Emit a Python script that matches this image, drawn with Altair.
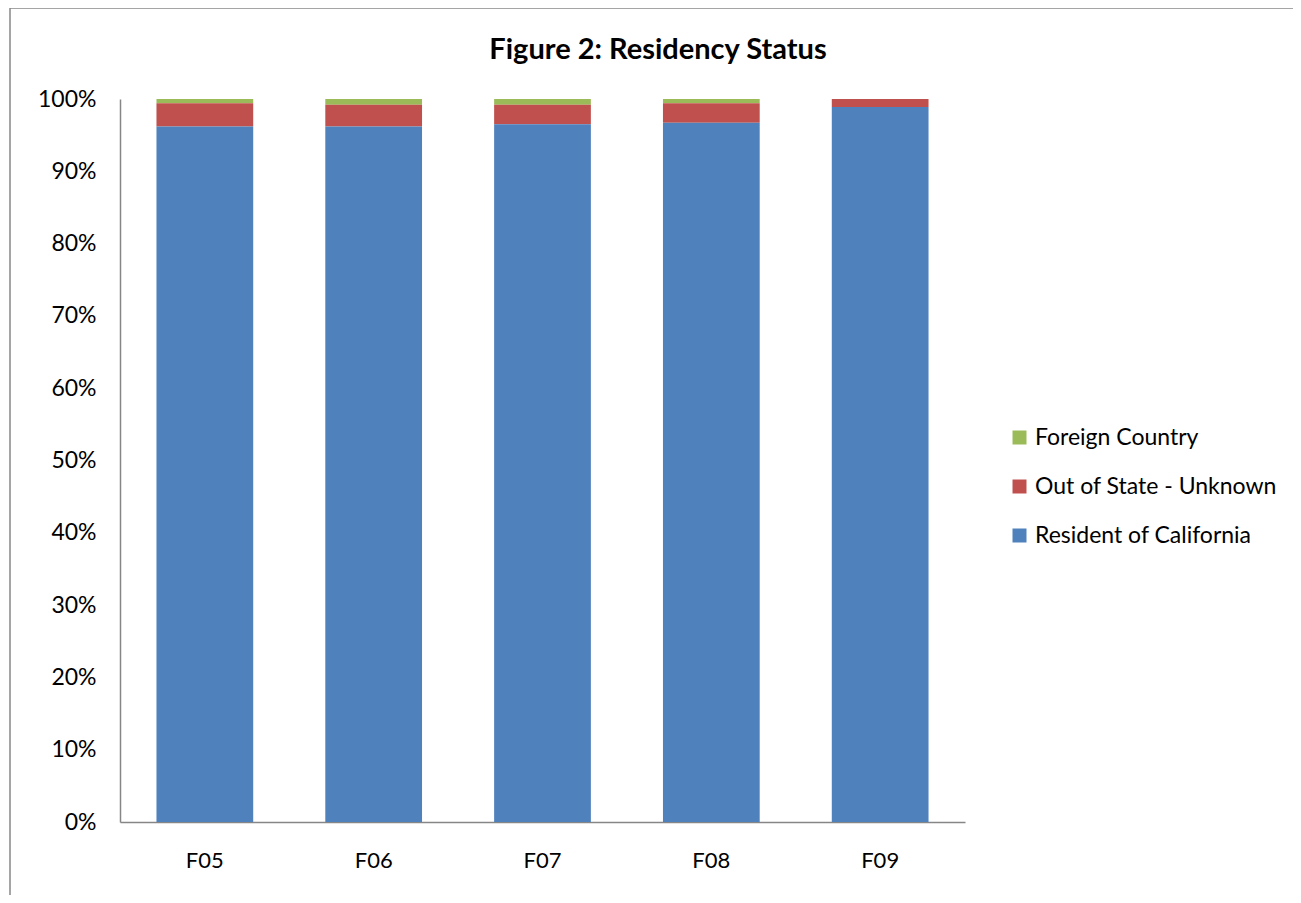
import altair as alt
import pandas as pd

years = ["F05", "F06", "F07", "F08", "F09"]
resident = [96.2, 96.2, 96.5, 96.7, 98.9]
out_of_state = [3.2, 3.0, 2.7, 2.7, 1.1]
foreign = [0.6, 0.8, 0.8, 0.6, 0.0]

series = ["Foreign Country", "Out of State  - Unknown", "Resident of California"]
colors = ["#9BBB59", "#C0504D", "#4F81BD"]
stack_order = {"Resident of California": 0, "Out of State  - Unknown": 1, "Foreign Country": 2}
title_text = "Figure 2: Residency Status"

rows = []
for i, y in enumerate(years):
    for name, vals in zip(series, [foreign, out_of_state, resident]):
        rows.append({"year": y, "series": name, "value": vals[i], "ord": stack_order[name]})
df = pd.DataFrame(rows)

FONT = "Lato"

bars = alt.Chart(df).mark_bar().encode(
    x=alt.X("year:N", sort=years,
            scale=alt.Scale(paddingInner=0.427, paddingOuter=0.216),
            axis=alt.Axis(title=None, labelAngle=0, ticks=False, labelPadding=28,
                          labelFontSize=22, labelFont=FONT, labelColor="#000000",
                          domainColor="#868686", domainWidth=1.5)),
    y=alt.Y("value:Q", stack="normalize",
            scale=alt.Scale(domain=[0, 1], nice=False),
            axis=alt.Axis(title=None, format=".0%", values=[i / 10 for i in range(11)],
                          ticks=False, grid=False, labelPadding=24,
                          labelFontSize=23, labelFont=FONT, labelColor="#000000",
                          domainColor="#868686", domainWidth=1.5)),
    color=alt.Color("series:N", sort=series,
                    scale=alt.Scale(domain=series, range=colors),
                    legend=alt.Legend(title=None, orient="none", legendX=888, legendY=327,
                                      symbolType="square", symbolSize=196, symbolStrokeWidth=0,
                                      labelFontSize=23, labelFont=FONT, labelColor="#000000",
                                      labelLimit=400, rowPadding=25, labelOffset=4)),
    order=alt.Order("ord:Q"),
)

frame = pd.DataFrame({"t": [title_text]})

border = alt.Chart(frame).mark_rect(
    fill=None, stroke="#888888", strokeWidth=1.5, clip=False
).encode(
    x=alt.value(-110), x2=alt.value(1180), y=alt.value(-91), y2=alt.value(820)
)

title = alt.Chart(frame).mark_text(
    font=FONT, fontSize=29, fontWeight="bold", color="#000000",
    align="center", baseline="middle", clip=False
).encode(
    text="t:N", x=alt.value(538), y=alt.value(-49)
)

chart = alt.layer(border, bars, title).properties(
    width=845, height=723,
    padding={"left": 112, "top": 91, "right": 328, "bottom": 73},
    autosize=alt.AutoSizeParams(type="none"),
).configure_view(stroke=None)

chart.save("out.html", embed_options={"renderer": "svg", "actions": False})
